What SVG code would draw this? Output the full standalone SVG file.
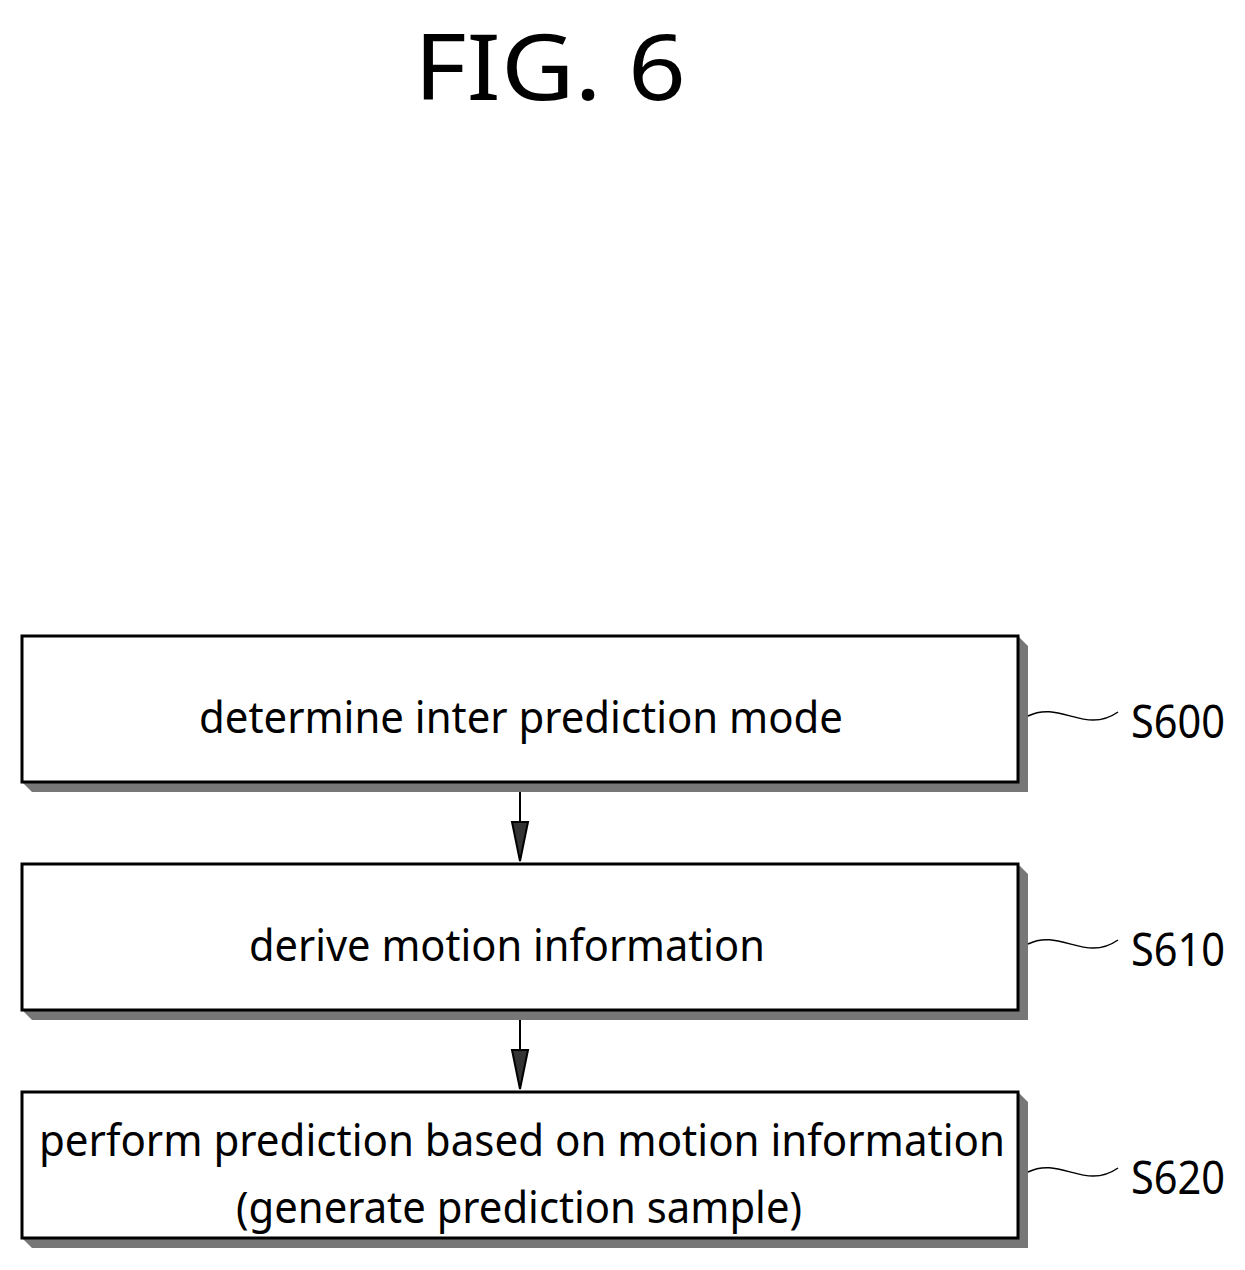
<svg xmlns="http://www.w3.org/2000/svg" width="1245" height="1270" viewBox="0 0 1245 1270">
<defs>
<style>
.box{fill:#fff;stroke:#000;stroke-width:3}
.sh{fill:#777}
.t{font-family:"Noto Sans",sans-serif;font-size:44px;fill:#000;text-anchor:middle}
.l{font-family:"Noto Sans",sans-serif;font-size:46px;fill:#000}
.sq{fill:none;stroke:#000;stroke-width:1.5}
</style>
</defs>
<rect width="1245" height="1270" fill="#fff"/>
<text x="550" y="100" font-family="Noto Sans,sans-serif" font-size="92" text-anchor="middle" textLength="272" lengthAdjust="spacingAndGlyphs">FIG. 6</text>
<g id="n1">
<path class="sh" d="M1018,636 L1028,646 L1028,792 L32,792 L22,782 L1018,782 Z"/>
<rect class="box" x="22" y="636" width="996" height="146"/>
<text class="t" x="521" y="733" textLength="644" lengthAdjust="spacingAndGlyphs">determine inter prediction mode</text>
<path class="sq" d="M1028,716 C1060,700 1085,735 1118,712"/>
<text class="l" x="1131" y="738" textLength="94" lengthAdjust="spacingAndGlyphs">S600</text>
</g>
<g id="n2">
<path class="sh" d="M1018,864 L1028,874 L1028,1020 L32,1020 L22,1010 L1018,1010 Z"/>
<rect class="box" x="22" y="864" width="996" height="146"/>
<text class="t" x="507" y="961" textLength="516" lengthAdjust="spacingAndGlyphs">derive motion information</text>
<path class="sq" d="M1028,944 C1060,928 1085,963 1118,940"/>
<text class="l" x="1131" y="966" textLength="94" lengthAdjust="spacingAndGlyphs">S610</text>
</g>
<g id="n3">
<path class="sh" d="M1018,1092 L1028,1102 L1028,1248 L32,1248 L22,1238 L1018,1238 Z"/>
<rect class="box" x="22" y="1092" width="996" height="146"/>
<text class="t" x="522" y="1156" textLength="966" lengthAdjust="spacingAndGlyphs">perform prediction based on motion information</text>
<text class="t" x="519" y="1223" textLength="566" lengthAdjust="spacingAndGlyphs">(generate prediction sample)</text>
<path class="sq" d="M1028,1172 C1060,1156 1085,1191 1118,1168"/>
<text class="l" x="1131" y="1194" textLength="94" lengthAdjust="spacingAndGlyphs">S620</text>
</g>
<g id="connectors" stroke="#000" stroke-width="2" fill="#333">
<line x1="520" y1="792" x2="520" y2="825"/>
<path d="M512,822 L528,822 L520,861 Z"/>
<line x1="520" y1="1020" x2="520" y2="1053"/>
<path d="M512,1050 L528,1050 L520,1089 Z"/>
</g>
</svg>
